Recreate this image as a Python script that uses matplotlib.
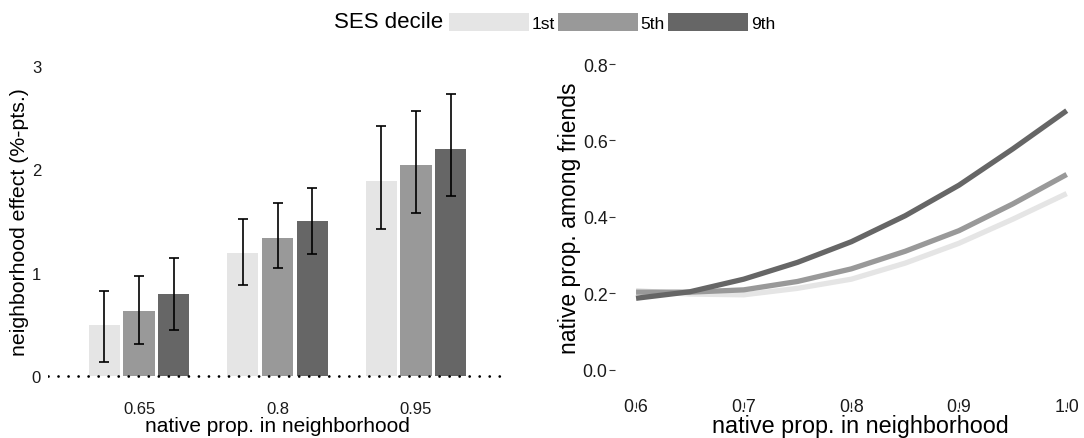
import numpy as np
import matplotlib.pyplot as plt

plt.rcParams['font.family'] = ['Liberation Sans', 'DejaVu Sans']

# SES deciles and their grey shades
deciles = ['1st', '5th', '9th']
shades = ['#e5e5e5', '#999999', '#666666']

# left panel: neighborhood effect by native share in neighborhood
groups = ['0.65', '0.8', '0.95']
effect = {
    '1st': [0.49, 1.19, 1.89],
    '5th': [0.63, 1.34, 2.04],
    '9th': [0.79, 1.50, 2.20],
}
err_lo = {
    '1st': [0.14, 0.88, 1.42],
    '5th': [0.31, 1.05, 1.58],
    '9th': [0.45, 1.18, 1.74],
}
err_hi = {
    '1st': [0.82, 1.52, 2.42],
    '5th': [0.97, 1.67, 2.56],
    '9th': [1.14, 1.82, 2.73],
}

# right panel: native share among friends
native_nb = [0.6, 0.65, 0.7, 0.75, 0.8, 0.85, 0.9, 0.95, 1.0]
friends = {
    '1st': [0.207, 0.198, 0.196, 0.213, 0.237, 0.279, 0.331, 0.394, 0.461],
    '5th': [0.203, 0.203, 0.209, 0.231, 0.264, 0.310, 0.364, 0.434, 0.511],
    '9th': [0.187, 0.204, 0.237, 0.281, 0.335, 0.403, 0.483, 0.578, 0.678],
}

fig = plt.figure(figsize=(10.84, 4.39), dpi=100)
ax1 = fig.add_axes([0.0443, 0.1059, 0.4234, 0.7768])
ax2 = fig.add_axes([0.5669, 0.1207, 0.4370, 0.7660])

# bars with error bars
x = np.arange(1, len(groups) + 1)
offsets = [-0.252, 0.0, 0.252]
bars = []
for d, c, off in zip(deciles, shades, offsets):
    lo = np.array(effect[d]) - np.array(err_lo[d])
    hi = np.array(err_hi[d]) - np.array(effect[d])
    b = ax1.bar(x + off, effect[d], width=0.225, color=c, label=d, zorder=2)
    ax1.errorbar(x + off, effect[d], yerr=[lo, hi], fmt='none', ecolor='black',
                 elinewidth=1.2, capsize=3.5, capthick=1.2, zorder=3)
    bars.append(b)
ax1.axhline(0, color='black', lw=2, linestyle=(0, (0.01, 3.6)),
            dash_capstyle='round', zorder=4)
ax1.set_xlim(0.343, 3.657)
ax1.set_ylim(-0.15, 3.15)
ax1.set_xticks(x)
ax1.set_xticklabels(groups)
ax1.set_yticks([0, 1, 2, 3])
ax1.tick_params(axis='both', length=0, labelsize=12, colors='#1a1a1a')
ax1.tick_params(axis='x', pad=7)
ax1.tick_params(axis='y', pad=5)
ax1.set_xlabel('native prop. in neighborhood', fontsize=15, labelpad=0)
ax1.set_ylabel('neighborhood effect (%-pts.)', fontsize=15.3, labelpad=2)

# lines
for d, c in zip(deciles, shades):
    ax2.plot(native_nb, friends[d], color=c, lw=3.8, solid_capstyle='butt')
ax2.set_xlim(0.58, 1.02)
ax2.set_ylim(-0.04, 0.84)
ax2.set_xticks([0.6, 0.7, 0.8, 0.9, 1.0])
ax2.set_yticks([0.0, 0.2, 0.4, 0.6, 0.8])
ax2.xaxis.set_major_formatter(plt.FormatStrFormatter('%.1f'))
ax2.yaxis.set_major_formatter(plt.FormatStrFormatter('%.1f'))
ax2.spines['bottom'].set_position(('outward', 12))
ax2.tick_params(axis='both', length=4, width=0.8, color='#333333',
                labelsize=12.8, labelcolor='#1a1a1a')
ax2.tick_params(axis='x', pad=-7)
ax2.tick_params(axis='y', pad=1)
ax2.set_xlabel('native prop. in neighborhood', fontsize=16.8, va='baseline')
ax2.xaxis.set_label_coords(0.518, -0.141)
ax2.set_ylabel('native prop. among friends', fontsize=16.5, labelpad=1)

for ax in (ax1, ax2):
    for s in ax.spines.values():
        s.set_visible(False)
    ax.patch.set_alpha(0)

# legend along the top
fig.text(443 / 1084, 1 - 23 / 439, 'SES decile', fontsize=16,
         ha='right', va='center')
fig.legend(handles=bars, labels=deciles, loc='center left',
           bbox_to_anchor=(449 / 1084, 1 - 23 / 439), ncol=3, frameon=False,
           fontsize=12.5, handlelength=4.6, handleheight=1.3,
           handletextpad=0.15, columnspacing=0.2, borderpad=0,
           borderaxespad=0)

fig.savefig('out.png', dpi=100)
